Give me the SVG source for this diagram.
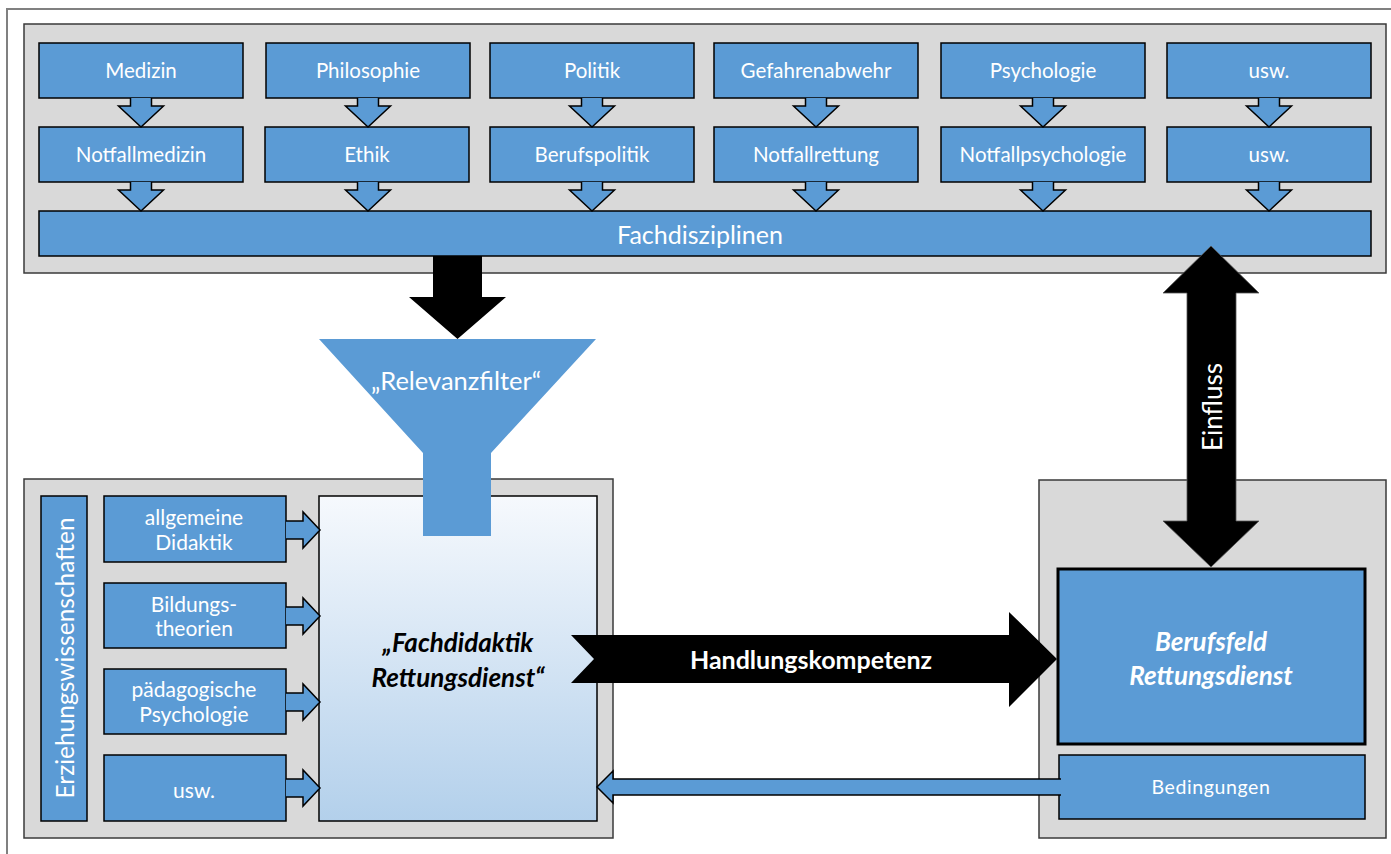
<svg xmlns="http://www.w3.org/2000/svg" width="1391" height="854" viewBox="0 0 1391 854">
  <defs>
    <linearGradient id="fdGrad" x1="0" y1="0" x2="0" y2="1">
      <stop offset="0" stop-color="#F6F9FD"/>
      <stop offset="1" stop-color="#B3D0EB"/>
    </linearGradient>
    <style>
      .panel { fill: #D9D9D9; stroke: #3A3A3A; stroke-width: 1.5; }
      .box { fill: #5B9BD5; stroke: #000; stroke-width: 1.5; }
      .sarrow { fill: #5B9BD5; stroke: #000; stroke-width: 1.5; stroke-linejoin: miter; }
      .big { fill: #000; }
      .lbl { font-family: Lato, "Liberation Sans", sans-serif; font-size: 20.5px; fill: #fff; text-anchor: middle; dominant-baseline: central; }
      .sub { font-size: 21px; }
      .bi { font-weight: bold; font-style: italic; font-size: 26px; }
    </style>
  </defs>

  <!-- page frame -->
  <rect x="0" y="0" width="1391" height="854" fill="#fff"/>
  <rect x="7" y="9" width="1400" height="860" fill="#fff" stroke="#808080" stroke-width="2"/>

  <!-- Fachdisziplinen panel -->
  <g id="panel-fach">
    <rect class="panel" x="24" y="24" width="1362" height="249"/>
  </g>

  <!-- Erziehungswissenschaften panel -->
  <g id="panel-ezw">
    <rect class="panel" x="24" y="479" width="589" height="359"/>
  </g>

  <!-- Berufsfeld panel -->
  <g id="panel-beruf">
    <rect class="panel" x="1039" y="480" width="347" height="358"/>
  </g>

  <!-- discipline boxes, row 1 -->
  <g id="medizin"><rect class="box" x="39" y="43" width="204" height="55"/><text class="lbl" x="141" y="70">Medizin</text></g>
  <g id="philosophie"><rect class="box" x="266" y="43" width="204" height="55"/><text class="lbl" x="368" y="70">Philosophie</text></g>
  <g id="politik"><rect class="box" x="490" y="43" width="204" height="55"/><text class="lbl" x="592" y="70">Politik</text></g>
  <g id="gefahrenabwehr"><rect class="box" x="714" y="43" width="204" height="55"/><text class="lbl" x="816" y="70">Gefahrenabwehr</text></g>
  <g id="psychologie"><rect class="box" x="941" y="43" width="204" height="55"/><text class="lbl" x="1043" y="70">Psychologie</text></g>
  <g id="usw-1"><rect class="box" x="1167" y="43" width="204" height="55"/><text class="lbl" x="1269" y="70">usw.</text></g>

  <!-- discipline boxes, row 2 -->
  <g id="notfallmedizin"><rect class="box" x="39" y="127" width="204" height="55"/><text class="lbl" x="141" y="154">Notfallmedizin</text></g>
  <g id="ethik"><rect class="box" x="265" y="127" width="204" height="55"/><text class="lbl" x="367" y="154">Ethik</text></g>
  <g id="berufspolitik"><rect class="box" x="490" y="127" width="204" height="55"/><text class="lbl" x="592" y="154">Berufspolitik</text></g>
  <g id="notfallrettung"><rect class="box" x="714" y="127" width="204" height="55"/><text class="lbl" x="816" y="154">Notfallrettung</text></g>
  <g id="notfallpsychologie"><rect class="box" x="941" y="127" width="204" height="55"/><text class="lbl" x="1043" y="154">Notfallpsychologie</text></g>
  <g id="usw-2"><rect class="box" x="1167" y="127" width="204" height="55"/><text class="lbl" x="1269" y="154">usw.</text></g>

  <!-- Fachdisziplinen bar -->
  <g id="fachdisziplinen">
    <rect class="box" x="39" y="211" width="1332" height="45"/>
    <text class="lbl" x="700" y="234" style="font-size:25px">Fachdisziplinen</text>
  </g>

  <!-- Erziehungswissenschaften column and its boxes -->
  <g id="erziehungswissenschaften">
    <rect class="box" x="41" y="496" width="46" height="325"/>
    <text class="lbl" transform="translate(64,658) rotate(-90)" style="font-size:24.5px">Erziehungswissenschaften</text>
  </g>
  <g id="allgemeine-didaktik"><rect class="box" x="104" y="496" width="182" height="66"/>
    <text class="lbl sub" x="194" y="516">allgemeine</text><text class="lbl sub" x="194" y="541">Didaktik</text></g>
  <g id="bildungstheorien"><rect class="box" x="104" y="583" width="182" height="65"/>
    <text class="lbl sub" x="194" y="603">Bildungs-</text><text class="lbl sub" x="194" y="627">theorien</text></g>
  <g id="paed-psychologie"><rect class="box" x="104" y="669" width="182" height="65"/>
    <text class="lbl sub" x="194" y="688">pädagogische</text><text class="lbl sub" x="194" y="713">Psychologie</text></g>
  <g id="usw-3"><rect class="box" x="104" y="755" width="182" height="66"/>
    <text class="lbl sub" x="194" y="789">usw.</text></g>

  <!-- Fachdidaktik Rettungsdienst -->
  <g id="fachdidaktik">
    <rect x="319" y="496" width="278" height="325" fill="url(#fdGrad)" stroke="#000" stroke-width="1.5"/>
  </g>

  <!-- Berufsfeld Rettungsdienst -->
  <g id="berufsfeld">
    <rect x="1058" y="569" width="307" height="175" fill="#5B9BD5" stroke="#000" stroke-width="3"/>
    <text class="lbl bi" x="1211" y="641">Berufsfeld</text>
    <text class="lbl bi" x="1211" y="675">Rettungsdienst</text>
  </g>
  <g id="bedingungen">
    <rect class="box" x="1059" y="755" width="306" height="64"/>
    <text class="lbl" x="1211" y="786" style="font-size:19.5px;letter-spacing:0.6px">Bedingungen</text>
  </g>

  <!-- connectors -->
  <g id="connectors">
    <!-- row 1 to row 2 -->
    <path class="sarrow" d="M130.5,98 V106 H118.5 L141,127 L163.5,106 H151.5 V98"/>
    <path class="sarrow" d="M357.5,98 V106 H345.5 L368,127 L390.5,106 H378.5 V98"/>
    <path class="sarrow" d="M581.5,98 V106 H569.5 L592,127 L614.5,106 H602.5 V98"/>
    <path class="sarrow" d="M805.5,98 V106 H793.5 L816,127 L838.5,106 H826.5 V98"/>
    <path class="sarrow" d="M1032.5,98 V106 H1020.5 L1043,127 L1065.5,106 H1053.5 V98"/>
    <path class="sarrow" d="M1258.5,98 V106 H1246.5 L1269,127 L1291.5,106 H1279.5 V98"/>
    <!-- row 2 to Fachdisziplinen -->
    <path class="sarrow" d="M130.5,182 V190 H118.5 L141,211 L163.5,190 H151.5 V182"/>
    <path class="sarrow" d="M357.5,182 V190 H345.5 L368,211 L390.5,190 H378.5 V182"/>
    <path class="sarrow" d="M581.5,182 V190 H569.5 L592,211 L614.5,190 H602.5 V182"/>
    <path class="sarrow" d="M805.5,182 V190 H793.5 L816,211 L838.5,190 H826.5 V182"/>
    <path class="sarrow" d="M1032.5,182 V190 H1020.5 L1043,211 L1065.5,190 H1053.5 V182"/>
    <path class="sarrow" d="M1258.5,182 V190 H1246.5 L1269,211 L1291.5,190 H1279.5 V182"/>

    <!-- Erziehungswissenschaften boxes into Fachdidaktik -->
    <path class="sarrow" d="M286,521 H303 V512 L320,530 L303,548 V539 H286"/>
    <path class="sarrow" d="M286,607 H303 V598 L320,616 L303,634 V625 H286"/>
    <path class="sarrow" d="M286,693 H303 V684 L320,702 L303,720 V711 H286"/>
    <path class="sarrow" d="M286,779 H303 V770 L320,788 L303,806 V797 H286"/>

    <!-- Fachdisziplinen down into the filter -->
    <polygon class="big" points="433,256 482,256 482,297 506,297 457.5,339 409,297 433,297"/>

    <!-- Relevanzfilter funnel -->
    <g id="relevanzfilter">
      <polygon fill="#5B9BD5" points="319,339 596,339 491,453 491,536 423,536 423,453"/>
      <text class="lbl" x="456" y="380" style="font-size:25.5px">„Relevanzfilter“</text>
    </g>

    <!-- Handlungskompetenz -->
    <polygon class="big" points="571,635 1009,635 1009,612 1057,659 1009,707 1009,683 571,683 594,659"/>
    <text class="lbl" x="811" y="659" style="font-weight:bold;font-size:25px">Handlungskompetenz</text>

    <!-- Einfluss (both ways) -->
    <polygon class="big" stroke="#555" stroke-width="0.8" points="1211,246 1259,293 1236,293 1236,521 1259,521 1211,567 1163,521 1187,521 1187,293 1163,293"/>
    <text class="lbl" transform="translate(1212,407) rotate(-90)" style="font-size:26px">Einfluss</text>

    <!-- Bedingungen back to Fachdidaktik -->
    <path class="sarrow" d="M1061,779 H613 V771 L597,787 L613,803 V795 H1061"/>
  </g>

  <!-- Fachdidaktik label drawn above the filter neck -->
  <g id="fachdidaktik-label">
    <text class="lbl bi" x="458" y="642" style="fill:#000">„Fachdidaktik</text>
    <text class="lbl bi" x="458" y="677" style="fill:#000">Rettungsdienst“</text>
  </g>
</svg>
